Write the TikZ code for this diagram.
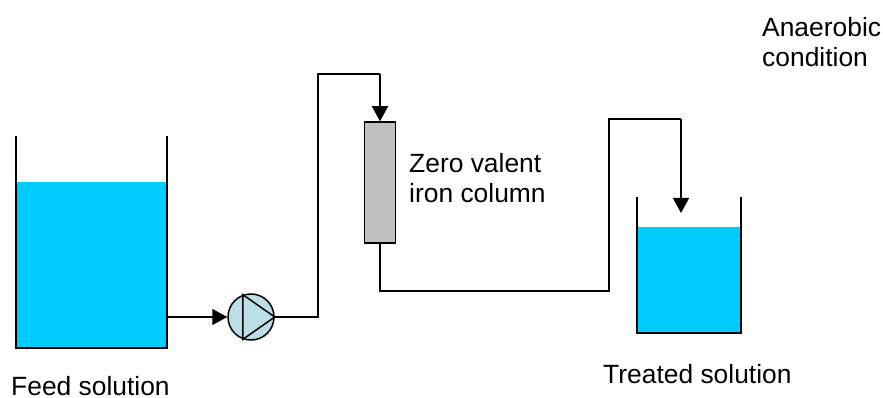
\documentclass[tikz,border=0pt]{standalone}
\usepackage{fontspec}
\setmainfont{Liberation Sans}
\usetikzlibrary{arrows.meta,positioning}
\definecolor{WaterBlue}{HTML}{00CCFF}
\definecolor{PumpTeal}{HTML}{BBDFE6}
\definecolor{ColumnGrey}{HTML}{C0C0C0}
\tikzset{pipe/.style={draw=black,line width=1.5pt},
  flowarrow/.style={pipe,-{Triangle[length=15pt,width=16pt]}},
  wall/.style={draw=black,line width=1.5pt},
  caption/.style={font=\fontsize{26.4pt}{30.5pt}\selectfont,align=left,anchor=west,inner sep=0pt}}
\begin{document}
\begin{tikzpicture}[x=1pt,y=-1pt]
      \useasboundingbox (0,0) rectangle (883,398);
      % tanks
      \fill[WaterBlue] (16,182) rectangle (167,348);
      \draw[wall] (16,136)--(16,348)--(167,348)--(167,136);
      \fill[WaterBlue] (637,227) rectangle (741,333);
      \draw[wall] (637,197)--(637,333)--(741,333)--(741,197);
      % column and pump
      \node[draw=black,fill=ColumnGrey,line width=1.5pt,minimum width=31pt,minimum height=121pt,inner sep=0pt] (column) at (380,182.5) {};
      \node[circle,draw=black,fill=PumpTeal,line width=1.5pt,minimum size=46pt,inner sep=0pt] (pump) at (251,317) {};
      \draw[line width=1.5pt] (pump.110)--(pump.east)--(pump.250)--cycle;
      % pipes
      \coordinate (feedout) at (167,317);
      \coordinate (treatedin) at (681,213);
      \draw[flowarrow] (feedout)--(pump.west);
      \draw[pipe] (pump.east)--(318,317)--(318,74)--(380,74);
      \draw[flowarrow] (380,74)--(column.north);
      \draw[pipe] (column.south)--(380,291)--(609,291)--(609,119)--(681,119);
      \draw[flowarrow] (681,119)--(treatedin);
      % labels
      \node[caption] (columnlabel) at (409,178) {Zero valent\\iron column};
      \node[caption] (feedlabel) at (11,386.5) {Feed solution};
      \node[caption] (treatedlabel) at (603,374) {Treated solution};
      \node[caption] (anaerobic) at (762,42) {Anaerobic\\condition};
    \end{tikzpicture}
\end{document}
